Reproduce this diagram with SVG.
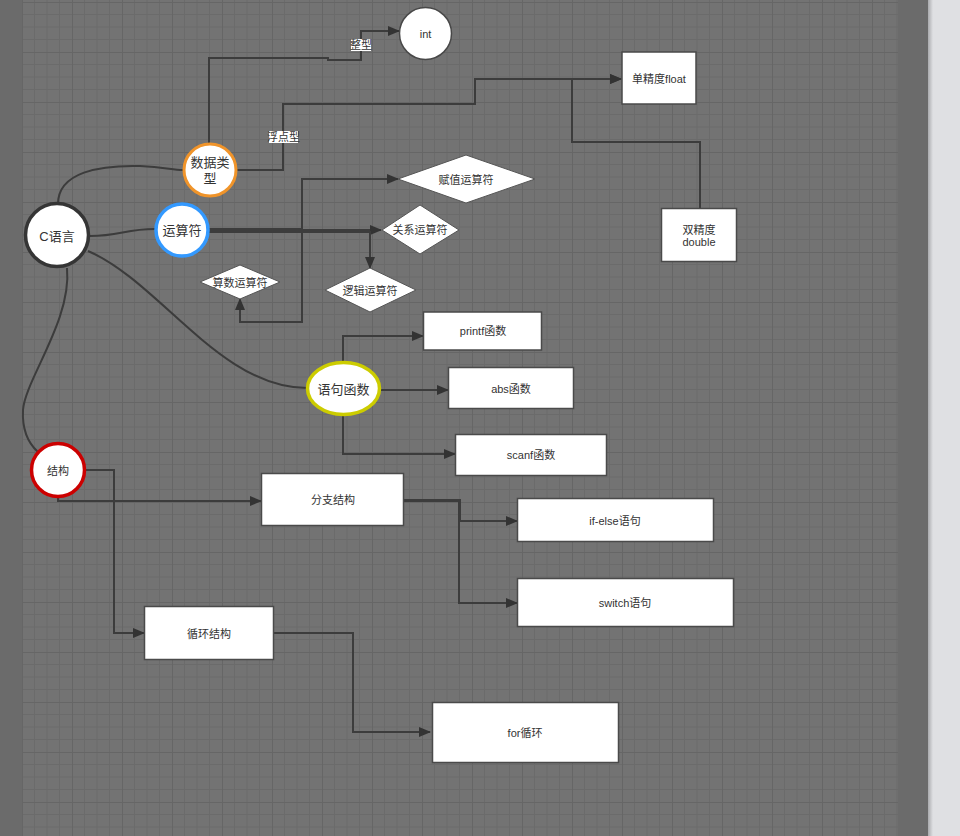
<svg xmlns="http://www.w3.org/2000/svg" width="960" height="836" viewBox="0 0 960 836">
<defs>
<pattern id="grid" x="22" y="2" width="50" height="50" patternUnits="userSpaceOnUse">
<rect width="50" height="50" fill="#737373"/>
<path d="M12.5 0V50M25 0V50M37.5 0V50M0 12.5H50M0 25H50M0 37.5H50" stroke="#6b6b6b" stroke-width="1" fill="none"/>
<path d="M0 0V50M0 0H50" stroke="#666" stroke-width="2" fill="none"/>
</pattern>
<linearGradient id="sh" x1="0" x2="1" y1="0" y2="0">
<stop offset="0" stop-color="#a9aaad"/>
<stop offset="1" stop-color="#dfe0e3"/>
</linearGradient>
<marker id="arr" markerWidth="12" markerHeight="10" refX="11" refY="5" orient="auto" markerUnits="userSpaceOnUse">
<path d="M0,0 L12,5 L0,10 Z" fill="#333"/>
</marker>
</defs>
<style>
.conn path{fill:none;stroke:#3c3c3c;stroke-width:2}
.a{marker-end:url(#arr)}
.box{fill:#fff;stroke:#4a4a4a;stroke-width:1.5}
.dia{fill:#fff;stroke:#555;stroke-width:1}
text{font-family:"Liberation Sans","Noto Sans CJK SC",sans-serif;fill:#333;text-anchor:middle;dominant-baseline:central}
.s{font-size:11px}
.m{font-size:13px}
.lbl{fill:#fff;stroke:none}
</style>
<rect x="0" y="0" width="960" height="836" fill="#6b6b6b"/>
<rect x="22" y="0" width="876" height="836" fill="url(#grid)"/>
<rect x="928" y="0" width="32" height="836" fill="#dfe0e3"/>
<rect x="928" y="0" width="5" height="836" fill="url(#sh)"/>

<g id="connectors" class="conn">
<path d="M58,204 C58,172 100,165 140,166 C165,167 172,170 183,170"/>
<path d="M90,236 C120,236 125,229 155,229"/>
<path d="M88,251 C160,282 220,388 307,388"/>
<path d="M67,268 C72,320 25,380 23,410 C22,430 28,443 38,452"/>
<path class="a" d="M209,143 V58 H328 V60 H361 V31 H399"/>
<path class="a" d="M237,170 H283 V104 H475 V79 H621"/>
<path class="a" d="M700,209 V142 H572 V79 H621"/>
<path class="a" d="M208,229 H302 V179 H398"/>
<path class="a" d="M208,230 H381"/>
<path class="a" d="M208,231 H302 V322 H240 V299"/>
<path class="a" d="M208,232 H370 V268"/>
<path class="a" d="M343,362 V336 H423"/>
<path class="a" d="M381,390 H448"/>
<path class="a" d="M343,416 V454 H455"/>
<path class="a" d="M58,497 V501 H261"/>
<path class="a" d="M85,470 H114 V633 H144"/>
<path class="a" d="M404,500 H460 V521 H517"/>
<path class="a" d="M404,501 H459 V603 H517"/>
<path class="a" d="M274,633 H353 V732 H430"/>
</g>

<g id="label-zhengxing"><rect class="lbl" x="351" y="39" width="20" height="12"/><text class="s" x="361" y="45">整型</text></g>
<g id="label-fudianxing"><rect class="lbl" x="269" y="131" width="29" height="12"/><text class="s" x="283.5" y="137">浮点型</text></g>

<g id="n-c"><circle cx="57" cy="235" r="31.5" fill="#fff" stroke="#353535" stroke-width="3.5"/><text class="m" x="57" y="236">C语言</text></g>
<g id="n-datatype"><circle cx="210" cy="170" r="26" fill="#fff" stroke="#f0942a" stroke-width="3"/><text class="m" x="210" y="162">数据类</text><text class="m" x="210" y="178">型</text></g>
<g id="n-operator"><circle cx="182" cy="230" r="26" fill="#fff" stroke="#3399ff" stroke-width="3.5"/><text class="m" x="182" y="230">运算符</text></g>
<g id="n-int"><circle cx="425.5" cy="33.5" r="26" fill="#fff" stroke="#484848" stroke-width="1.5"/><text class="s" x="425.5" y="34">int</text></g>
<g id="n-float"><rect class="box" x="622" y="52" width="74" height="52"/><text class="s" x="659" y="79">单精度float</text></g>
<g id="n-double"><rect class="box" x="661.5" y="208.5" width="75" height="53"/><text class="s" x="699" y="230">双精度</text><text class="s" x="699" y="242">double</text></g>
<g id="n-assign"><polygon class="dia" points="398,179 466,155 535,179 466,203"/><text class="s" x="466" y="180">赋值运算符</text></g>
<g id="n-relation"><polygon class="dia" points="382,230 420,205 459,230 420,254"/><text class="s" x="420" y="230">关系运算符</text></g>
<g id="n-arith"><polygon class="dia" points="200,282 240,265 280,282 240,299"/><text class="s" x="240" y="283">算数运算符</text></g>
<g id="n-logic"><polygon class="dia" points="325,290 370,268 416,290 370,312"/><text class="s" x="370" y="291">逻辑运算符</text></g>
<g id="n-stmt"><ellipse cx="343.5" cy="388.5" rx="36" ry="26" fill="#fff" stroke="#cccc00" stroke-width="3.5"/><text class="m" x="343.5" y="389">语句函数</text></g>
<g id="n-printf"><rect class="box" x="423.5" y="312" width="118" height="38"/><text class="s" x="483" y="331">printf函数</text></g>
<g id="n-abs"><rect class="box" x="448.5" y="367.5" width="125" height="41"/><text class="s" x="511" y="389">abs函数</text></g>
<g id="n-scanf"><rect class="box" x="455.5" y="434.5" width="151" height="41"/><text class="s" x="531" y="455">scanf函数</text></g>
<g id="n-struct"><circle cx="58" cy="470" r="26.5" fill="#fff" stroke="#cc0000" stroke-width="3.5"/><text class="s" x="58" y="471">结构</text></g>
<g id="n-branch"><rect class="box" x="261.5" y="473.5" width="142" height="52"/><text class="s" x="333" y="500">分支结构</text></g>
<g id="n-ifelse"><rect class="box" x="517.5" y="498.5" width="196" height="43"/><text class="s" x="615" y="521">if-else语句</text></g>
<g id="n-switch"><rect class="box" x="517.5" y="578.5" width="216" height="48"/><text class="s" x="625" y="603">switch语句</text></g>
<g id="n-loop"><rect class="box" x="144.5" y="606.5" width="129" height="53"/><text class="s" x="209" y="634">循环结构</text></g>
<g id="n-for"><rect class="box" x="432.5" y="702.5" width="186" height="60"/><text class="s" x="525" y="733">for循环</text></g>
</svg>
